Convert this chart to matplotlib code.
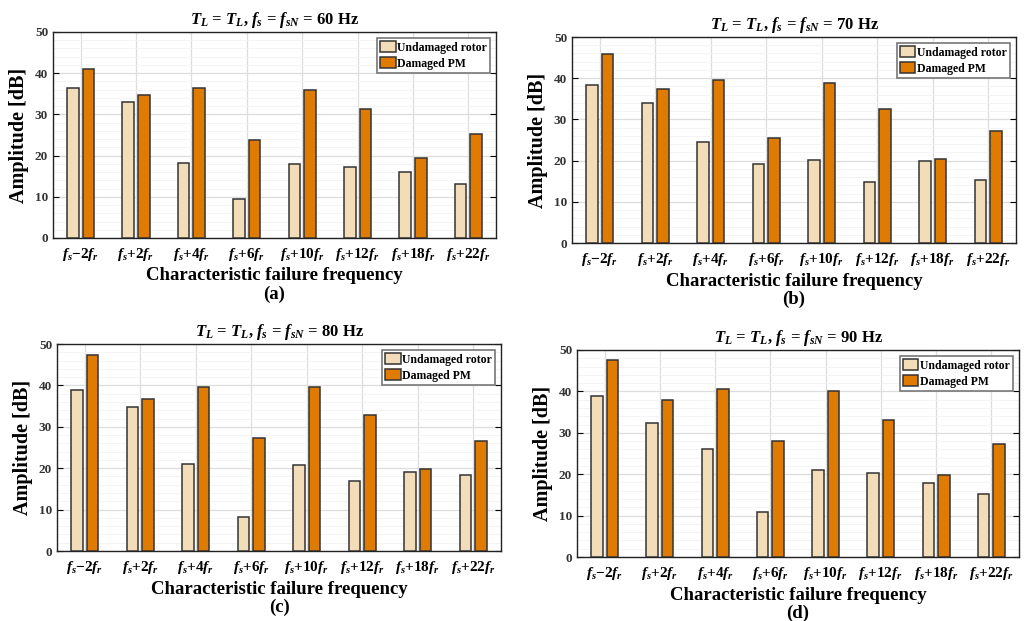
import numpy as np
import matplotlib
matplotlib.use("Agg")
from matplotlib import pyplot as plt
from matplotlib.ticker import MultipleLocator

plt.rcParams['font.family'] = 'Liberation Serif'
plt.rcParams['font.weight'] = 'bold'
plt.rcParams['mathtext.fontset'] = 'custom'
plt.rcParams['mathtext.rm'] = 'Liberation Serif:bold'
plt.rcParams['mathtext.it'] = 'Liberation Serif:italic:bold'
plt.rcParams['mathtext.bf'] = 'Liberation Serif:bold'

categories = ["$f_s$\u22122$f_r$", "$f_s$+2$f_r$", "$f_s$+4$f_r$", "$f_s$+6$f_r$",
              "$f_s$+10$f_r$", "$f_s$+12$f_r$", "$f_s$+18$f_r$", "$f_s$+22$f_r$"]

freqs = [60, 70, 80, 90]
panel_tags = ["(a)", "(b)", "(c)", "(d)"]

undamaged_60 = [36.3, 32.9, 18.3, 9.5, 18.0, 17.2, 16.1, 13.2]
damaged_60 = [40.9, 34.6, 36.3, 23.9, 35.9, 31.3, 19.3, 25.2]

undamaged_70 = [38.3, 34.1, 24.4, 19.2, 20.2, 14.7, 20.0, 15.2]
damaged_70 = [45.8, 37.5, 39.5, 25.6, 38.8, 32.6, 20.5, 27.1]

undamaged_80 = [39.0, 34.7, 20.9, 8.1, 20.8, 16.8, 19.2, 18.4]
damaged_80 = [47.3, 36.7, 39.6, 27.3, 39.5, 32.8, 19.9, 26.5]

undamaged_90 = [38.8, 32.3, 26.0, 10.9, 20.9, 20.4, 17.8, 15.3]
damaged_90 = [47.7, 38.0, 40.6, 27.9, 40.1, 33.1, 19.8, 27.4]

undamaged = [undamaged_60, undamaged_70, undamaged_80, undamaged_90]
damaged = [damaged_60, damaged_70, damaged_80, damaged_90]

# axes boxes in pixels (left, top, right, bottom) of the 1026x621 picture
W, H = 1026, 621
boxes = [(53, 32, 496, 238), (572, 37, 1016, 243),
         (57, 344, 501, 551), (577, 350, 1019, 557)]

fig = plt.figure(figsize=(10.26, 6.21), dpi=100)

x = np.arange(len(categories))
bw = 0.21

for i in range(4):
    l, t, r, b = boxes[i]
    ax = fig.add_axes([l / W, 1 - b / H, (r - l) / W, (b - t) / H])
    ax.bar(x - 0.14, undamaged[i], bw, color="#F3DDB9", edgecolor="#333333",
           linewidth=1.1, label="Undamaged rotor", zorder=3)
    ax.bar(x + 0.14, damaged[i], bw, color="#DF7B00", edgecolor="#333333",
           linewidth=1.1, label="Damaged PM", zorder=3)
    ax.set_xlim(-0.5, 7.5)
    ax.set_ylim(0, 50)
    ax.set_xticks(x)
    ax.set_xticklabels(categories, fontsize=11)
    ax.yaxis.set_major_locator(MultipleLocator(10))
    ax.yaxis.set_minor_locator(MultipleLocator(2))
    ax.tick_params(axis='y', labelsize=9.5, labelcolor="#333333", direction='in',
                   right=True, length=4)
    ax.tick_params(axis='y', which='minor', length=0)
    ax.tick_params(axis='x', direction='in', length=0, pad=6)
    ax.grid(True, which='major', color="#dddddd", linewidth=0.9, zorder=0)
    ax.grid(True, which='minor', axis='y', color="#f2f2f2", linewidth=0.6, zorder=0)
    for s in ax.spines.values():
        s.set_color("#222222")
        s.set_linewidth(1.0)
    ax.set_ylabel("Amplitude [dB]", fontsize=14.5, fontweight='bold', labelpad=4)
    ax.set_xlabel("Characteristic failure frequency\n" + panel_tags[i],
                  fontsize=13.5, fontweight='bold', linespacing=1.1, labelpad=3)
    ax.set_title("$T_L$ = $T_L$, $f_s$ = $f_{sN}$ = %d Hz" % freqs[i],
                 fontsize=12, fontweight='bold', pad=6)
    leg = ax.legend(loc='upper right', fontsize=8.5, fancybox=False,
                    edgecolor="#777777", framealpha=1, handlelength=1.3,
                    handleheight=1.0, handletextpad=0.1, borderpad=0.3,
                    labelspacing=0.3, borderaxespad=0.5)
    leg.get_frame().set_linewidth(1.2)

fig.savefig("out.png", dpi=100)
